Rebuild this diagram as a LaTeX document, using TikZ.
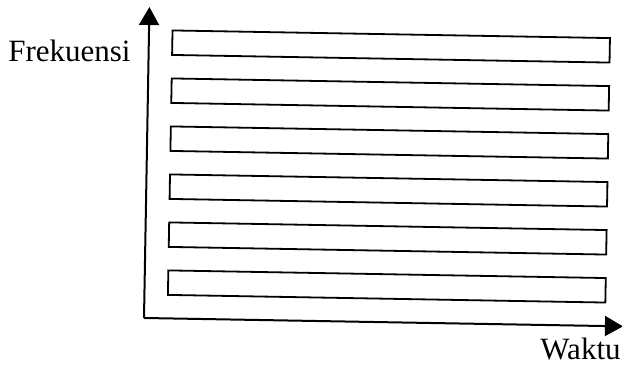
\documentclass[tikz,border=0pt]{standalone}
\usepackage{fontspec}
\setmainfont{Liberation Serif}
\usetikzlibrary{arrows.meta}
\begin{document}
\begin{tikzpicture}[x=0.5pt, y=0.5pt,
    sumbu/.style={line width=1pt, -{Triangle[length=9pt, width=10pt]}},
    pita/.style={line width=0.9pt},
    label/.style={anchor=base east, inner sep=0pt, font=\fontsize{15.5}{18}\selectfont}]
\useasboundingbox (0,0) rectangle (622,368);

% Sumbu waktu dan frekuensi (sedikit miring seperti hasil pindaian)
\begin{scope}[shift={(144,50)}, rotate=-1]
    \coordinate (O) at (0,0);
    \coordinate (ytip) at (0,311);
    \coordinate (xtip) at (479,0);
    \draw[sumbu] (O) -- (ytip);
    \draw[sumbu] (O) -- (xtip);

    % Pita frekuensi
    \foreach \k in {0,...,5} {
        \draw[pita] (23.5,23.5+48*\k) rectangle (461,48+48*\k);
    }
\end{scope}

% Label sumbu
\node[label] (frek) at (131,306) {Frekuensi};
\node[label] (waktu) at (621,8) {Waktu};

\end{tikzpicture}
\end{document}
